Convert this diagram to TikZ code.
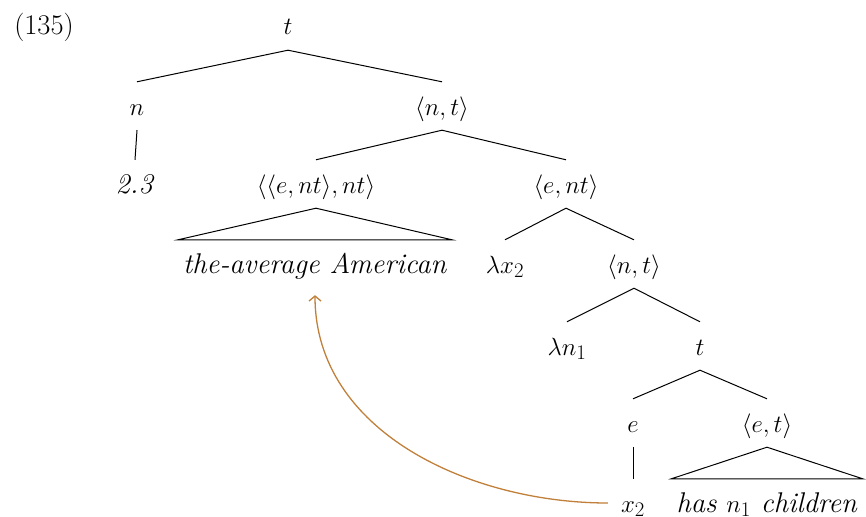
\documentclass[tikz,border=0pt]{standalone}
\usepackage{xcolor}
\usepackage{amsmath, amssymb}
\usepackage{tikz}
\usetikzlibrary{positioning, arrows.meta, calc}

\definecolor{moveclr}{RGB}{192,128,58}

\begin{document}
\begin{tikzpicture}[
  x=1pt, y=-1pt,
  font=\fontsize{28.5}{34}\selectfont,
  cat/.style={anchor=base, inner xsep=5pt, inner ysep=5pt,
              text height=28pt, text depth=10pt},
  br/.style={line width=1pt},
  arr/.style={-{Straight Barb[length=5pt, width=12pt]}, line width=1.3pt,
              draw=moveclr}
]
\useasboundingbox (0,0) rectangle (866,516);

\node[cat] (ex) at (44,35) {(135)};

% tree nodes
\node[cat] (root) at (288,35)  {$t$};
\node[cat] (n)    at (137,115) {$n$};
\node[cat] (nt)   at (442,115) {$\langle n,t\rangle$};
\node[cat] (num)  at (135,193) {\textit{2.3}};
\node[cat] (gq)   at (316,193) {$\langle\langle e,nt\rangle,nt\rangle$};
\node[cat] (ent)  at (566,193) {$\langle e,nt\rangle$};
\node[cat] (avg)  at (315,273) {\textit{the-average American}};
\node[cat] (lx)   at (505,273) {$\lambda x_2$};
\node[cat] (ntb)  at (634,273) {$\langle n,t\rangle$};
\node[cat] (ln)   at (567,355) {$\lambda n_1$};
\node[cat] (tb)   at (700,355) {$t$};
\node[cat] (e)    at (633,432) {$e$};
\node[cat] (et)   at (767,432) {$\langle e,t\rangle$};
\node[cat] (x)    at (633,512) {$x_2$};
\node[cat] (has)  at (767,512) {\textit{has $n_1$ children}};

% branches
\draw[br] (n.north) -- (root.south) -- (nt.north);
\draw[br] (n.south) -- (num.north);
\draw[br] (gq.north) -- (nt.south) -- (ent.north);
\draw[br] (avg.north west) -- (gq.south) -- (avg.north east) -- cycle;
\draw[br] (lx.north) -- (ent.south) -- (ntb.north);
\draw[br] (ln.north) -- (ntb.south) -- (tb.north);
\draw[br] (e.north) -- (tb.south) -- (et.north);
\draw[br] (e.south) -- (x.north);
\draw[br] (has.north west) -- (et.south) -- (has.north east) -- cycle;

% movement
\draw[arr, shorten <=8pt, shorten >=7pt] (x.west) to[out=180, in=-90] (avg.south);
\end{tikzpicture}
\end{document}
